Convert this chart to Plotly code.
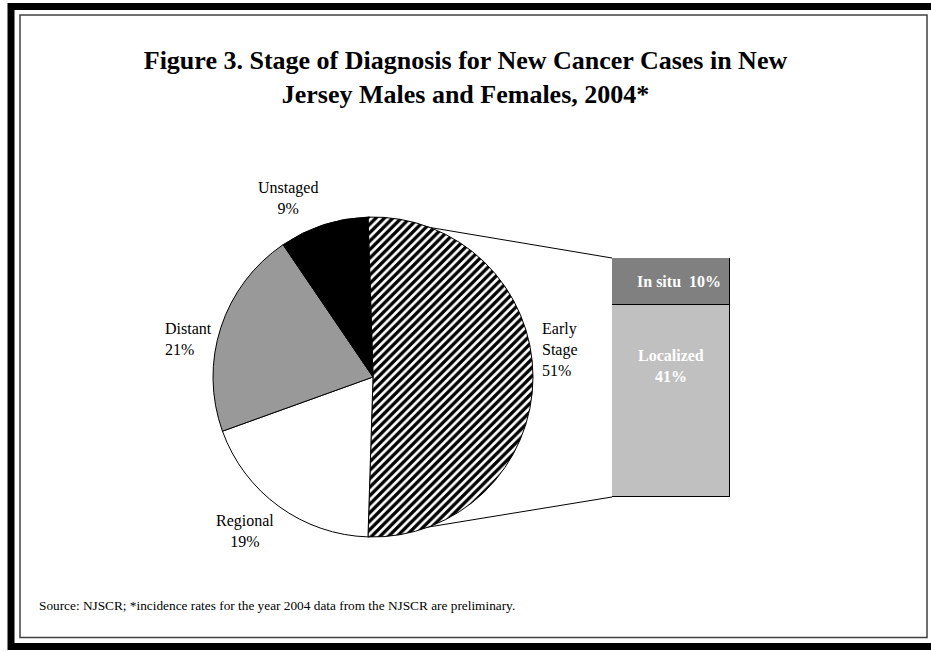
import math
import plotly.graph_objects as go

# donnees
pie_labels = ["Early Stage", "Regional", "Distant", "Unstaged"]
pie_values = [51, 19, 21, 9]
pie_colors = ["white", "white", "#999999", "black"]

bar_labels = ["Localized", "In situ"]
bar_values = [41, 10]
bar_colors = ["#c0c0c0", "#808080"]

title_text = "Figure 3. Stage of Diagnosis for New Cancer Cases in New<br>Jersey Males and Females, 2004*"
source_text = "Source: NJSCR; *incidence rates for the year 2004 data from the NJSCR are preliminary."

W, H = 931, 651
FONT = "Liberation Serif"


def px(x):
    return x / W


def py(y):
    return 1 - y / H


# geometrie (pixels)
cx, cy, r = 373, 377, 160
bar_x0, bar_x1, bar_top, bar_bot = 612, 730, 258, 497

total = sum(pie_values)
share = pie_values[0] / total
start = 90 - share * 180          # la part "Early Stage" centree a 3 h
end = start + share * 360

fig = go.Figure()

fig.add_trace(go.Pie(
    labels=pie_labels, values=pie_values, sort=False, direction="clockwise",
    rotation=start, textinfo="none", hoverinfo="label+percent",
    marker=dict(colors=pie_colors, line=dict(color="black", width=1),
                pattern=dict(shape=["/", "", "", ""], fgcolor="black",
                             size=6, solidity=0.55)),
    domain=dict(x=[px(cx - r), px(cx + r)], y=[py(cy + r), py(cy - r)]),
    showlegend=False,
))

for lab, val, col in zip(bar_labels, bar_values, bar_colors):
    fig.add_trace(go.Bar(
        x=[0], y=[val], name=lab, width=1, marker_color=col,
        marker_line=dict(color="black", width=1), showlegend=False,
    ))

shapes = []
# lignes de liaison camembert -> barre
a0, a1 = math.radians(start), math.radians(end)
p_top = (cx + r * math.sin(a0), cy - r * math.cos(a0))
p_bot = (cx + r * math.sin(a1), cy - r * math.cos(a1))
for (x0, y0), y1 in [(p_top, bar_top), (p_bot, bar_bot)]:
    shapes.append(dict(type="line", xref="paper", yref="paper", layer="below",
                       x0=px(x0), y0=py(y0), x1=px(bar_x0), y1=py(y1),
                       line=dict(color="black", width=1)))
# cadre
shapes.append(dict(type="rect", xref="paper", yref="paper",
                   x0=px(11), y0=py(6.5), x1=px(945), y1=py(646.5),
                   line=dict(color="black", width=7)))
shapes.append(dict(type="rect", xref="paper", yref="paper",
                   x0=px(20), y0=py(15), x1=px(927), y1=py(637.5),
                   line=dict(color="#404040", width=1.5)))

annotations = []
pie_pos = {
    "Early Stage": (540, 349, "left"),
    "Regional": (245, 531, "center"),
    "Distant": (163, 339, "left"),
    "Unstaged": (288, 198, "center"),
}
for lab, val in zip(pie_labels, pie_values):
    x, y, anc = pie_pos[lab]
    annotations.append(dict(
        text=f"{lab.replace(' ', '<br>')}<br>{val}%", x=px(x), y=py(y),
        xref="paper", yref="paper", xanchor=anc, yanchor="middle", align=anc,
        showarrow=False, font=dict(family=FONT, size=16, color="black")))

annotations.append(dict(
    text=f"<b>{bar_labels[0]}<br>{bar_values[0]}%</b>", x=0, y=28,
    xref="x", yref="y", showarrow=False,
    font=dict(family=FONT, size=16, color="white")))
annotations.append(dict(
    text=f"<b>{bar_labels[1]}&nbsp; {bar_values[1]}%</b>", x=0.07,
    y=bar_values[0] + bar_values[1] / 2, xref="x", yref="y", showarrow=False,
    font=dict(family=FONT, size=16, color="white")))

annotations.append(dict(
    text=source_text, x=px(37), y=py(605), xref="paper", yref="paper",
    xanchor="left", yanchor="middle", showarrow=False,
    font=dict(family=FONT, size=13.3, color="black")))

fig.update_layout(
    width=W, height=H, margin=dict(l=0, r=0, t=0, b=0),
    paper_bgcolor="white", plot_bgcolor="white",
    title=dict(text=f"<b>{title_text}</b>", x=0.5, xanchor="center",
               y=py(69), yanchor="middle",
               font=dict(family=FONT, size=26, color="black")),
    barmode="stack", bargap=0,
    xaxis=dict(domain=[px(bar_x0), px(bar_x1)], range=[-0.5, 0.5], visible=False),
    yaxis=dict(domain=[py(bar_bot), py(bar_top)], range=[0, sum(bar_values)], visible=False),
    shapes=shapes, annotations=annotations,
)

fig.write_html("out.html", config={"displayModeBar": False},
               post_script="document.body.style.margin='0px';")
